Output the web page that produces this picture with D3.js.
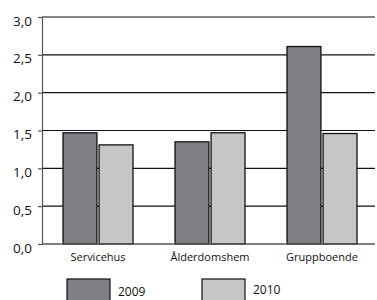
<html>
<head>
<meta charset="utf-8">
<style>
  body { margin: 0; background: #fff; }
  text { font-family: "Open Sans", sans-serif; }
</style>
</head>
<body>
<script src="https://d3js.org/d3.v7.min.js"></script>
<script>
var categories = ["Servicehus", "Ålderdomshem", "Gruppboende"];
var years = ["2009", "2010"];
var values2009 = [1.47, 1.35, 2.61];
var values2010 = [1.31, 1.47, 1.46];
var yTicks = [0, 0.5, 1.0, 1.5, 2.0, 2.5, 3.0];
var colors = ["#807f84", "#c6c6c7"];

var width = 377, height = 300;
var margin = {top: 17, bottom: 56, left: 42, right: -1};

var svg = d3.select("body").append("svg").attr("width", width).attr("height", height);

var x = d3.scaleBand().domain(categories)
  .range([margin.left, width - margin.right])
  .paddingInner(0.375).paddingOuter(0.1875);
var x1 = d3.scaleBand().domain(years).range([0, x.bandwidth()]).paddingInner(0.06);
var y = d3.scaleLinear().domain([0, 3]).range([height - margin.bottom, margin.top]);

// gridlines
svg.append("g").selectAll("line").data(yTicks.slice(1)).enter().append("line")
  .attr("x1", margin.left).attr("x2", 375)
  .attr("y1", function(d){ return y(d); }).attr("y2", function(d){ return y(d); })
  .attr("stroke", "#111").attr("stroke-width", 1.2);

// bars
var series = [values2009, values2010];
var g = svg.append("g");
categories.forEach(function(c, i){
  years.forEach(function(yr, j){
    g.append("rect")
      .attr("x", x(c) + x1(yr))
      .attr("y", y(series[j][i]))
      .attr("width", x1.bandwidth())
      .attr("height", y(0) - y(series[j][i]))
      .attr("fill", colors[j])
      .attr("stroke", "#111").attr("stroke-width", 1.3);
  });
});

// y axis
var yAxis = d3.axisLeft(y).tickValues(yTicks).tickSize(4).tickPadding(6)
  .tickFormat(function(d){ return d3.format(".1f")(d).replace(".", ","); });
var ya = svg.append("g").attr("transform", "translate(" + margin.left + ",0)").call(yAxis);
ya.attr("font-size", null).attr("font-family", null);
ya.select(".domain").attr("stroke", "#555").attr("stroke-width", 1.2);
ya.selectAll(".tick line").attr("stroke", "#555").attr("stroke-width", 1.2);
ya.selectAll(".tick text").style("font-size", "13.5px").attr("fill", "#111")
  .attr("dy", "0.6em");

// baseline
svg.append("line").attr("x1", margin.left).attr("x2", 375)
  .attr("y1", y(0)).attr("y2", y(0)).attr("stroke", "#555").attr("stroke-width", 1.5);

// category labels
svg.append("g").selectAll("text").data(categories).enter().append("text")
  .attr("x", function(d){ return x(d) + x.bandwidth() / 2; })
  .attr("y", 261)
  .attr("text-anchor", "middle").style("font-size", "11px").attr("fill", "#111")
  .text(function(d){ return d; });

// legend
var legX = [67, 202];
years.forEach(function(yr, j){
  svg.append("rect").attr("x", legX[j]).attr("y", 279).attr("width", 43).attr("height", 30)
    .attr("fill", colors[j]).attr("stroke", "#111").attr("stroke-width", 1.2);
  svg.append("text").attr("x", legX[j] + 51).attr("y", 296 - j * 2)
    .style("font-size", "12px").attr("fill", "#111").text(yr);
});
</script>
</body>
</html>
